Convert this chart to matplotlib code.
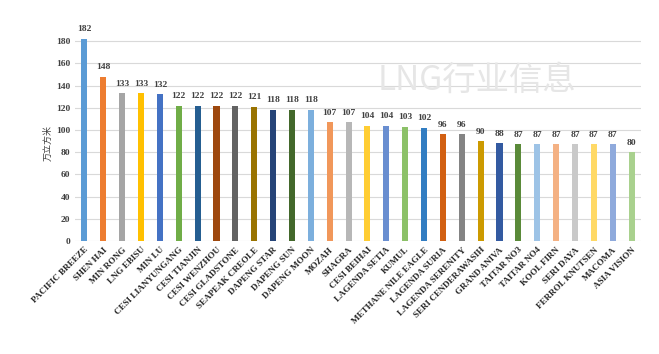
import matplotlib.pyplot as plt
import numpy as np

ships = ["PACIFIC BREEZE", "SHEN HAI", "MIN RONG", "LNG EBISU", "MIN LU",
         "CESI LIANYUNGANG", "CESI TIANJIN", "CESI WENZHOU", "CESI GLADSTONE",
         "SEAPEAK CREOLE", "DAPENG STAR", "DAPENG SUN", "DAPENG MOON", "MOZAH",
         "SHAGRA", "CESI BEIHAI", "LAGENDA SETIA", "KUMUL", "METHANE NILE EAGLE",
         "LAGENDA SURIA", "LAGENDA SERENITY", "SERI CENDERAWASIH", "GRAND ANIVA",
         "TAITAR NO3", "TAITAR NO4", "KOOL FIRN", "SERI DAYA", "FERROL KNUTSEN",
         "MACOMA", "ASIA VISION"]
capacity = [182, 148, 133, 133, 132, 122, 122, 122, 122, 121, 118, 118, 118, 107,
            107, 104, 104, 103, 102, 96, 96, 90, 88, 87, 87, 87, 87, 87, 87, 80]
colors = ["#5B9BD5", "#ED7D31", "#A5A5A5", "#FFC000", "#4472C4", "#70AD47",
          "#255E91", "#9E480E", "#636363", "#997300", "#264478", "#43682B",
          "#7CAFDD", "#F1975A", "#B7B7B7", "#FFCD33", "#698ED0", "#8CC168",
          "#327DC2", "#D26012", "#848484", "#CC9A00", "#335AA1", "#5A8A39",
          "#9DC3E6", "#F4B183", "#C9C9C9", "#FFD966", "#8FAADC", "#A9D18E"]

plt.rcParams['font.family'] = ['Liberation Serif', 'Noto Sans CJK SC']

fig = plt.figure(figsize=(6.59, 3.54), dpi=100)
ax = fig.add_axes([75/659, 1 - 241/354, 566/659, 222/354])

x = np.arange(len(ships))
ax.bar(x, capacity, width=0.32, color=colors, zorder=3)
for xi, v in zip(x, capacity):
    ax.text(xi, v + 5, str(v), ha='center', va='bottom', fontsize=6.8, fontweight='bold', color='#404040')

ax.set_xlim(-0.5, len(ships) - 0.5)
ax.set_ylim(0, 200)
ax.set_yticks(np.arange(0, 181, 20))
ax.yaxis.grid(True, color='#D9D9D9', linewidth=0.8, zorder=0)
for s in ax.spines.values():
    s.set_visible(False)
ax.tick_params(length=0)
ax.set_xticks(x)
ax.set_xticklabels(ships, rotation=45, ha='right', rotation_mode='anchor', fontsize=6.5, fontweight='bold', color='#262626')
for lbl in ax.get_yticklabels():
    lbl.set_fontsize(6.8)
    lbl.set_fontweight('bold')
    lbl.set_color('#404040')

fig.text(48/659, 1 - 143/354, "万立方米", rotation=90, ha='center', va='center', fontsize=6.5,
         family=['Noto Sans CJK SC'], color='#404040')
fig.text(477/659, 1 - 80/354, "LNG行业信息", ha='center', va='center', fontsize=24,
         family=['Noto Sans CJK SC'], color='#E6E6E6', zorder=0)

fig.savefig("out.png", dpi=100)
